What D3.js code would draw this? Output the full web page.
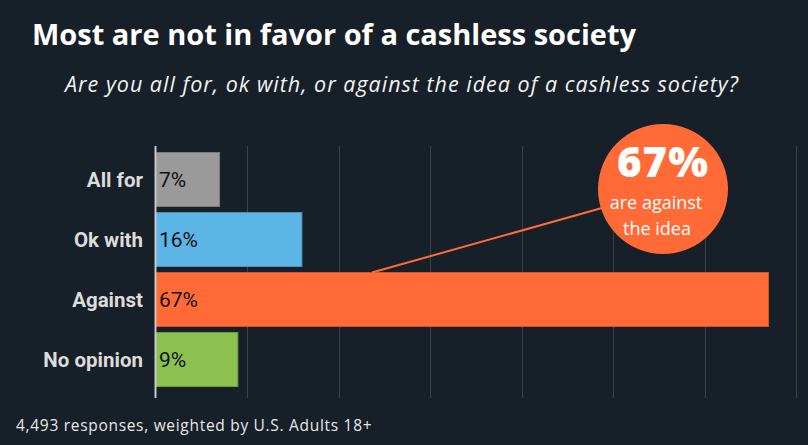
<!DOCTYPE html>
<html><head><meta charset="utf-8">
<script src="https://cdn.jsdelivr.net/npm/d3@7"></script>
<style>body{margin:0;background:#171f28;}svg{display:block}</style>
</head><body>
<svg id="c" width="808" height="445"></svg>
<script>
const categories = ["All for", "Ok with", "Against", "No opinion"];
const values = [7, 16, 67, 9];
const colors = ["#9a9a9a", "#5db5e5", "#ff6a36", "#8cc152"];
const gridTicks = [0, 10, 20, 30, 40, 50, 60, 70];
const title = "Most are not in favor of a cashless society";
const subtitle = "Are you all for, ok with, or against the idea of a cashless society?";
const footer = "4,493 responses, weighted by U.S. Adults 18+";
const callout = {value: "67%", line1: "are against", line2: "the idea"};

const svg = d3.select("#c");
svg.append("rect").attr("width", 808).attr("height", 445).attr("fill", "#171f28");

const x = d3.scaleLinear().domain([0, 70]).range([155.5, 796]);
const y = d3.scaleBand().domain(categories).range([149.5, 389.5]).paddingInner(0.1).paddingOuter(0.05);

// grid
svg.append("g").selectAll("line").data(gridTicks.slice(1)).join("line")
  .attr("x1", d => Math.round(x(d)) + 0.5).attr("x2", d => Math.round(x(d)) + 0.5)
  .attr("y1", 146).attr("y2", 398).attr("stroke", "#3a424c").attr("stroke-width", 1);

// bars
svg.append("g").selectAll("rect").data(values).join("rect")
  .attr("x", x(0)).attr("y", (d, i) => y(categories[i]))
  .attr("width", d => x(d) - x(0)).attr("height", y.bandwidth())
  .attr("fill", (d, i) => colors[i])
  .attr("stroke", (d, i) => d3.color(colors[i]).darker(0.6)).attr("stroke-width", 1);

// axis line
svg.append("line").attr("x1", 155.5).attr("x2", 155.5).attr("y1", 146).attr("y2", 398)
  .attr("stroke", "#c8c8c8").attr("stroke-width", 2);

// category labels
svg.append("g").selectAll("text").data(categories).join("text")
  .attr("x", 143).attr("y", d => y(d) + y.bandwidth() / 2)
  .attr("dy", "0.35em").attr("text-anchor", "end")
  .attr("font-family", "Roboto").attr("font-weight", "bold").attr("font-size", 20.5)
  .attr("fill", "#dcdcdc").text(d => d);

// value labels
svg.append("g").selectAll("text").data(values).join("text")
  .attr("x", 159).attr("y", (d, i) => y(categories[i]) + y.bandwidth() / 2)
  .attr("dy", "0.35em")
  .attr("font-family", "Roboto").attr("font-size", 21)
  .attr("fill", "#111").text(d => d + "%");

// callout
const ci = categories.indexOf("Against");
const cx = 663, cy = 189, r = 65;
svg.append("line").attr("x1", 372).attr("y1", y(categories[ci]))
  .attr("x2", 602).attr("y2", 208).attr("stroke", "#ff6a36").attr("stroke-width", 2);
svg.append("circle").attr("cx", cx).attr("cy", cy).attr("r", r).attr("fill", "#ff6a36");
svg.append("text").attr("x", cx).attr("y", 177).attr("text-anchor", "middle")
  .attr("font-family", "'Open Sans', sans-serif").attr("font-weight", "800").attr("font-size", 42)
  .attr("letter-spacing", 1)
  .attr("fill", "#fff").text(callout.value);
svg.append("text").attr("x", 656).attr("y", 209).attr("text-anchor", "middle")
  .attr("font-family", "'Open Sans', sans-serif").attr("font-size", 18)
  .attr("fill", "#fff").text(callout.line1);
svg.append("text").attr("x", 657).attr("y", 235).attr("text-anchor", "middle")
  .attr("font-family", "'Open Sans', sans-serif").attr("font-size", 18)
  .attr("fill", "#fff").text(callout.line2);

// title
svg.append("text").attr("x", 32).attr("y", 45)
  .attr("font-family", "'Open Sans', sans-serif").attr("font-weight", "bold").attr("font-size", 29)
  .attr("letter-spacing", 0)
  .attr("fill", "#fff").text(title);
svg.append("text").attr("x", 402).attr("y", 92).attr("text-anchor", "middle")
  .attr("font-family", "'Open Sans', sans-serif").attr("font-style", "italic").attr("font-size", 21.5)
  .attr("letter-spacing", 1)
  .attr("fill", "#f2f2f2").text(subtitle);
svg.append("text").attr("x", 16).attr("y", 431)
  .attr("font-family", "'Open Sans', sans-serif").attr("font-size", 15.5)
  .attr("letter-spacing", 0.7)
  .attr("fill", "#e8e8e8").text(footer);
</script>
</body></html>
